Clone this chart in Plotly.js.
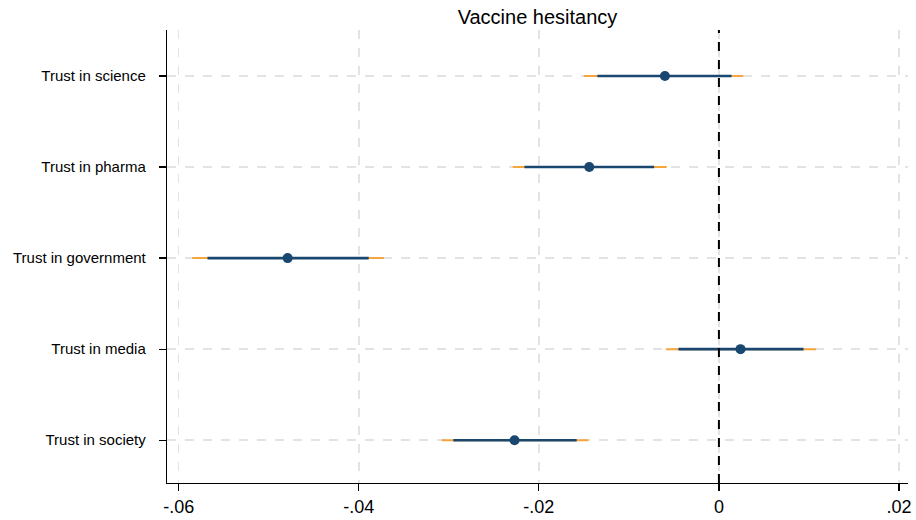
<!DOCTYPE html>
<html>
<head>
<meta charset="utf-8">
<script src="https://cdn.plot.ly/plotly-3.0.1.min.js"></script>
<style>html,body{margin:0;padding:0;background:#fff;}#chart{width:916px;height:520px;}</style>
</head>
<body>
<div id="chart"></div>
<script>
// Data
const categories = ["Trust in science", "Trust in pharma", "Trust in government", "Trust in media", "Trust in society"];
const estimate = [-0.0060, -0.0144, -0.0479, 0.0024, -0.0227];
const ci90Low  = [-0.0135, -0.0216, -0.0568, -0.0045, -0.0295];
const ci90High = [ 0.0014, -0.0072, -0.0389,  0.0094, -0.0158];
const ci95Low  = [-0.0150, -0.0229, -0.0585, -0.0059, -0.0308];
const ci95High = [ 0.0027, -0.0058, -0.0372,  0.0108, -0.0145];
const xTickVals = [-0.06, -0.04, -0.02, 0, 0.02];
const xTickText = ["-.06", "-.04", "-.02", "0", ".02"];

const navy = "#1a476f";
const orange = "#f5a53c";

const plus = (hi) => hi.map((h, i) => h - estimate[i]);
const minus = (lo) => lo.map((l, i) => estimate[i] - l);

const traces = [
  {
    type: "scatter", mode: "markers", x: estimate, y: categories,
    marker: {size: 1, color: "rgba(0,0,0,0)"},
    error_x: {type: "data", symmetric: false, array: plus(ci95High), arrayminus: minus(ci95Low),
              color: orange, thickness: 2, width: 0},
    hoverinfo: "skip", showlegend: false
  },
  {
    type: "scatter", mode: "markers", x: estimate, y: categories,
    marker: {size: 1, color: "rgba(0,0,0,0)"},
    error_x: {type: "data", symmetric: false, array: plus(ci90High), arrayminus: minus(ci90Low),
              color: navy, thickness: 2.6, width: 0},
    hoverinfo: "skip", showlegend: false
  },
  {
    type: "scatter", mode: "markers", x: estimate, y: categories,
    marker: {size: 10, color: navy},
    showlegend: false
  }
];

const layout = {
  width: 916, height: 520,
  margin: {l: 167, r: 8, t: 30, b: 37},
  paper_bgcolor: "#ffffff", plot_bgcolor: "#ffffff",
  font: {family: "Liberation Sans, Arial, sans-serif", color: "#000"},
  title: {text: "Vaccine hesitancy", x: 0.5, xref: "paper", y: 1 - 17/520, yref: "container",
          yanchor: "middle", font: {size: 20, color: "#000"}},
  xaxis: {
    range: [-0.0613, 0.0210],
    tickmode: "array", tickvals: xTickVals, ticktext: xTickText,
    showline: true, linecolor: "#000", linewidth: 1.2,
    ticks: "outside", ticklen: 7, tickcolor: "#000", tickwidth: 1.2,
    showgrid: true, gridcolor: "#e3e3e3", gridwidth: 1.5, griddash: "dash",
    zeroline: false,
    tickfont: {size: 18, color: "#000"}
  },
  yaxis: {
    type: "category",
    categoryorder: "array", categoryarray: categories,
    range: [4.47, -0.505],
    showline: true, linecolor: "#000", linewidth: 1.2,
    ticks: "outside", ticklen: 7, tickcolor: "#000", tickwidth: 1.2,
    ticklabelstandoff: 10,
    showgrid: true, gridcolor: "#e3e3e3", gridwidth: 1.5, griddash: "dash",
    zeroline: false,
    tickfont: {size: 15, color: "#000"}
  },
  shapes: [
    {type: "line", xref: "x", yref: "paper", x0: 0, x1: 0, y0: 0, y1: 1,
     line: {color: "#000", width: 2, dash: "dash"}, layer: "above"}
  ]
};

Plotly.newPlot("chart", traces, layout, {displayModeBar: false, staticPlot: true});
</script>
</body>
</html>
